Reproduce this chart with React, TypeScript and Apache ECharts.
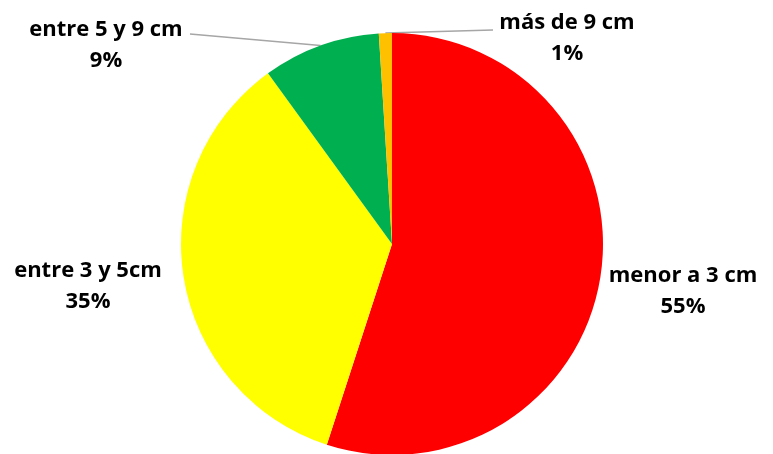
import React, { useEffect, useRef } from "react";
import * as echarts from "echarts";

const categories = ["menor a 3 cm", "entre 3 y 5cm", "entre 5 y 9 cm", "más de 9 cm"];
const values = [55, 35, 9, 1];
const colors = ["#FF0000", "#FFFF00", "#00B050", "#FFC000"];
const showLines = [false, false, true, true];

// label centre positions (layout)
const labelPos: [number, number][] = [
  [683, 288],
  [88, 283],
  [106, 42],
  [567, 35],
];
// label line end points near labels (layout)
const lineEnds: ([number, number] | null)[] = [null, null, [190, 34], [493, 30]];

export default function App() {
  const ref = useRef<HTMLDivElement>(null);
  useEffect(() => {
    const chart = echarts.init(ref.current!, null, { renderer: "svg" });
    chart.setOption({
      animation: false,
      series: [
        {
          type: "pie",
          center: [392, 244],
          radius: 211,
          startAngle: 90,
          clockwise: true,
          avoidLabelOverlap: false,
          data: categories.map((c, i) => ({
            name: c,
            value: values[i],
            itemStyle: { color: colors[i] },
            labelLine: { show: showLines[i] },
          })),
          label: {
            show: true,
            formatter: "{b}\n{c}%",
            fontFamily: "Open Sans",
            fontWeight: "bold",
            fontSize: 22,
            lineHeight: 31,
            color: "#000",
            align: "center",
          },
          labelLine: {
            lineStyle: { color: "#A6A6A6", width: 1.5 },
            length: 10,
            length2: 10,
          },
          labelLayout: (p: any) => {
            const i = p.dataIndex;
            const out: any = {
              x: labelPos[i][0],
              y: labelPos[i][1],
              align: "center",
              verticalAlign: "middle",
            };
            const e = lineEnds[i];
            if (e && p.labelLinePoints) {
              const s = p.labelLinePoints[0];
              out.labelLinePoints = [
                s,
                [(s[0] + e[0]) / 2, (s[1] + e[1]) / 2],
                e,
              ];
            }
            return out;
          },
          emphasis: { disabled: true },
        },
      ],
    });
    return () => chart.dispose();
  }, []);
  return (
    <div
      ref={ref}
      style={{ position: "fixed", left: 0, top: 0, width: 773, height: 454 }}
    />
  );
}
